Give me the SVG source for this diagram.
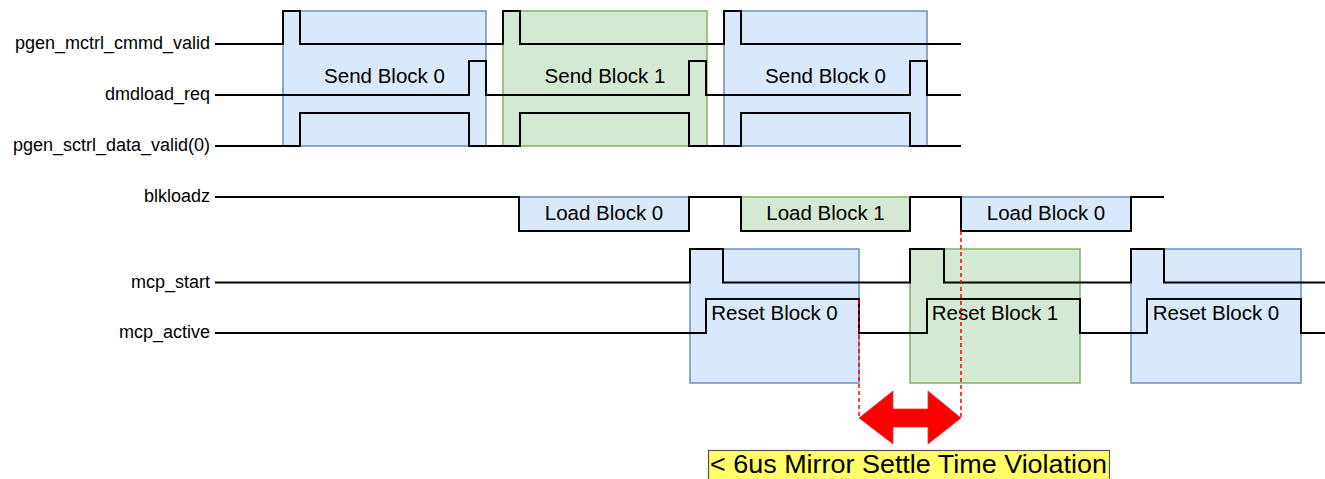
<svg xmlns="http://www.w3.org/2000/svg" width="1325" height="479" viewBox="0 0 1325 479">
<style>
.lbl{font-family:"Liberation Sans",Arial,sans-serif;font-size:18px;fill:#000;text-anchor:end}
.blk{font-family:"Liberation Sans",Arial,sans-serif;font-size:20.5px;fill:#000;text-anchor:middle}
.blue{fill:#dae8fc;stroke:#6c8ebf;stroke-width:1.5}
.green{fill:#d5e8d4;stroke:#82b366;stroke-width:1.5}
.wave{fill:none;stroke:#000;stroke-width:2}
.dash{fill:none;stroke:#ff0000;stroke-width:1.5;stroke-dasharray:4 3}
</style>
<rect width="1325" height="479" fill="#fff"/>
<g id="blocks">
<g id="send0"><rect class="blue" x="283" y="11" width="203" height="135"/><text class="blk" x="384.5" y="82.5">Send Block 0</text></g>
<g id="send1"><rect class="green" x="503" y="11" width="204" height="135"/><text class="blk" x="605" y="82.5">Send Block 1</text></g>
<g id="send0b"><rect class="blue" x="724" y="11" width="203" height="135"/><text class="blk" x="825.5" y="82.5">Send Block 0</text></g>
<g id="load0"><rect class="blue" x="519" y="197" width="170" height="34"/><text class="blk" x="604" y="219.5">Load Block 0</text></g>
<g id="load1"><rect class="green" x="741" y="197" width="169" height="34"/><text class="blk" x="825.5" y="219.5">Load Block 1</text></g>
<g id="load0b"><rect class="blue" x="961" y="197" width="170" height="34"/><text class="blk" x="1046" y="219.5">Load Block 0</text></g>
<g id="reset0"><rect class="blue" x="690" y="249" width="169" height="134"/></g>
<g id="reset1"><rect class="green" x="910" y="249" width="170" height="134"/></g>
<g id="reset0b"><rect class="blue" x="1131" y="249" width="170" height="134"/></g>
</g>
<g id="signals">
<g id="sig-cmmd"><text class="lbl" x="210" y="49">pgen_mctrl_cmmd_valid</text>
<polyline class="wave" points="215,44 283,44 283,11 300,11 300,44 503,44 503,11 520,11 520,44 724,44 724,11 741,11 741,44 961,44"/></g>
<g id="sig-dmd"><text class="lbl" x="210" y="100">dmdload_req</text>
<polyline class="wave" points="215,95 469,95 469,61 486,61 486,95 689,95 689,61 706,61 706,95 910,95 910,61 927,61 927,95 961,95"/></g>
<g id="sig-data"><text class="lbl" x="210" y="151">pgen_sctrl_data_valid(0)</text>
<polyline class="wave" points="215,146 300,146 300,113 469,113 469,146 520,146 520,113 689,113 689,146 741,146 741,113 910,113 910,146 961,146"/></g>
<g id="sig-blk"><text class="lbl" x="210" y="202">blkloadz</text>
<polyline class="wave" points="215,197 519,197 519,231 689,231 689,197 741,197 741,231 910,231 910,197 961,197 961,231 1131,231 1131,197 1164,197"/></g>
<g id="sig-start"><text class="lbl" x="210" y="287.5">mcp_start</text>
<polyline class="wave" points="215,282.5 690,282.5 690,249 723,249 723,282.5 910,282.5 910,249 944,249 944,282.5 1131,282.5 1131,249 1164,249 1164,282.5 1325,282.5"/></g>
<g id="sig-active"><text class="lbl" x="210" y="338">mcp_active</text>
<polyline class="wave" points="215,333 706,333 706,299 859,299 859,333 927,333 927,299 1080,299 1080,333 1147,333 1147,299 1301,299 1301,333 1325,333"/></g>
</g>
<g id="reset-labels">
<text class="blk" x="774.5" y="319.5">Reset Block 0</text>
<text class="blk" x="995" y="319.5">Reset Block 1</text>
<text class="blk" x="1216" y="319.5">Reset Block 0</text>
</g>
<g id="connectors">
<line class="dash" x1="859" y1="300" x2="859" y2="418"/>
<line class="dash" x1="961" y1="231" x2="961" y2="418"/>
<polygon id="violation-arrow" points="859,418 893,391 893,409 928,409 928,391 961,418 928,444 928,427 893,427 893,444" fill="#ff0000" stroke="#d04040" stroke-width="0.8"/>
</g>
<g id="violation-label">
<rect x="708.5" y="450.5" width="401" height="40" fill="#ffff66" stroke="#555" stroke-width="1.2"/>
<text x="710" y="473" font-family="Liberation Sans, Arial, sans-serif" font-size="26" textLength="397" lengthAdjust="spacingAndGlyphs">&lt; 6us Mirror Settle Time Violation</text>
</g>
</svg>
